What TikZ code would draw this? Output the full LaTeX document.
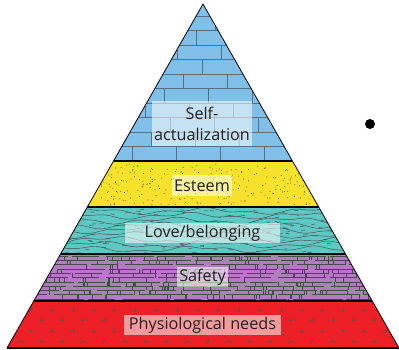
\documentclass[tikz,border=0pt]{standalone}
\usepackage{fontspec}
\setmainfont{Open Sans}
\usetikzlibrary{calc}

\definecolor{brickblue}{RGB}{128,192,232}
\definecolor{brickgrey}{RGB}{84,112,134}
\definecolor{esteemyellow}{RGB}{246,226,42}
\definecolor{loveteal}{RGB}{94,200,196}
\definecolor{safetypurple}{RGB}{180,124,192}
\definecolor{physred}{RGB}{236,32,38}
\definecolor{texgrey}{RGB}{70,74,74}
\definecolor{plusgrey}{RGB}{112,76,66}
\definecolor{labeltext}{RGB}{35,31,32}

\newcommand\bandpath[2]{({203-0.5698*(#1-4)},#1) -- ({203+0.5698*(#1-4)},#1) -- ({203+0.5698*(#2-4)},#2) -- ({203-0.5698*(#2-4)},#2) -- cycle}

\begin{document}
\begin{tikzpicture}[x=1pt,y=-1pt,
    brick/.style={draw=brickgrey,line width=0.6pt},
    grain/.style={draw=texgrey,line width=0.45pt},
    plusmark/.style={draw=plusgrey,line width=0.6pt},
    lbl/.style={fill=white,fill opacity=0.55,text opacity=1,text=labeltext,
                inner sep=0pt,align=center,font=\fontsize{16.2}{21}\selectfont},
    band/.style={line width=1.3pt}]
\useasboundingbox (0,0) rectangle (399,350);
\pgfmathsetseed{42}

\begin{scope}
  \clip \bandpath{4}{161};
  \fill[brickblue] (0,0) rectangle (399,161);
  \foreach \r in {0,...,10}{
    \pgfmathsetmacro\yb{161-14.5*\r}
    \pgfmathsetmacro\yt{\yb-14.5}
    \draw[brick] (0,\yt) -- (399,\yt);
    \pgfmathsetmacro\off{mod(\r*19,44)}
    \foreach \x in {0,44,...,396}
      \draw[brick] ({\x+\off},\yb) -- ({\x+\off},\yt);
  }
\end{scope}

\begin{scope}
  \clip \bandpath{161}{207};
  \fill[esteemyellow] (0,161) rectangle (399,207);
  \foreach \i in {1,...,260}{
    \pgfmathsetmacro\px{100+rnd*210}
    \pgfmathsetmacro\py{164+rnd*41}
    \fill[texgrey] (\px,\py) circle (0.5pt);
  }
\end{scope}

\begin{scope}
  \clip \bandpath{207}{254};
  \fill[loveteal] (0,207) rectangle (399,254);
  \foreach \k in {0,...,8}
    \draw[grain] plot[domain=40:370,samples=90,smooth]
      (\x,{211+4.8*\k+2.2*sin(3.1*\x+47*\k)+1.3*sin(8.3*\x+113*\k)});
  \foreach \i in {1,...,150}{
    \pgfmathsetmacro\px{60+rnd*290}
    \pgfmathsetmacro\py{209+rnd*44}
    \draw[grain] (\px,\py) -- ++(4,{rnd*1.6-0.8});
  }
\end{scope}

\begin{scope}
  \clip \bandpath{254}{301};
  \fill[safetypurple] (0,254) rectangle (399,301);
  \foreach \k in {0,...,10}{
    \pgfmathsetmacro\ph{rnd*80}
    \draw[grain,dash pattern=on 48pt off 4pt on 27pt off 7pt,dash phase=\ph pt]
      (0,{256+4.3*\k}) -- (399,{256+4.3*\k});
  }
  \foreach \i in {1,...,320}{
    \pgfmathsetmacro\px{20+rnd*360}
    \pgfmathsetmacro\row{int(rnd*11)}
    \draw[grain] (\px,{256+4.3*\row}) -- ++(0,4.3);
  }
\end{scope}

\begin{scope}
  \clip \bandpath{301}{348};
  \fill[physred] (0,301) rectangle (399,348);
  \foreach \r in {0,...,3}{
    \pgfmathsetmacro\py{310+10.4*\r}
    \pgfmathsetmacro\off{mod(\r+1,2)*10.4}
    \foreach \c in {0,...,19}
      \draw[plusmark] ({\off+20.8*\c-2},\py) -- ++(4,0) ++(-2,-2) -- ++(0,4);
  }
\end{scope}

\draw[line width=0.8pt,line join=round] (203,4) -- (7,348) -- (399,348) -- cycle;
\foreach \y in {161,207,254,301}
  \draw[band] ({203-0.5698*(\y-4)},\y) -- ({203+0.5698*(\y-4)},\y);
\draw[band] (7,348) -- (399,348);

\node[lbl,minimum width=100pt,minimum height=45pt] (selfact) at (202,123.5) {Self-\\actualization};
\node[lbl,minimum width=60pt,minimum height=21pt] (esteem) at (202,185.5) {Esteem};
\node[lbl,minimum width=155pt,minimum height=20pt] (love) at (202.5,233) {Love/belonging};
\node[lbl,minimum width=51pt,minimum height=20pt] (safety) at (202.5,277) {Safety};
\node[lbl,minimum width=157pt,minimum height=20pt] (physio) at (202.5,325) {Physiological needs};

\fill (370,124) circle (5pt);
\end{tikzpicture}
\end{document}
